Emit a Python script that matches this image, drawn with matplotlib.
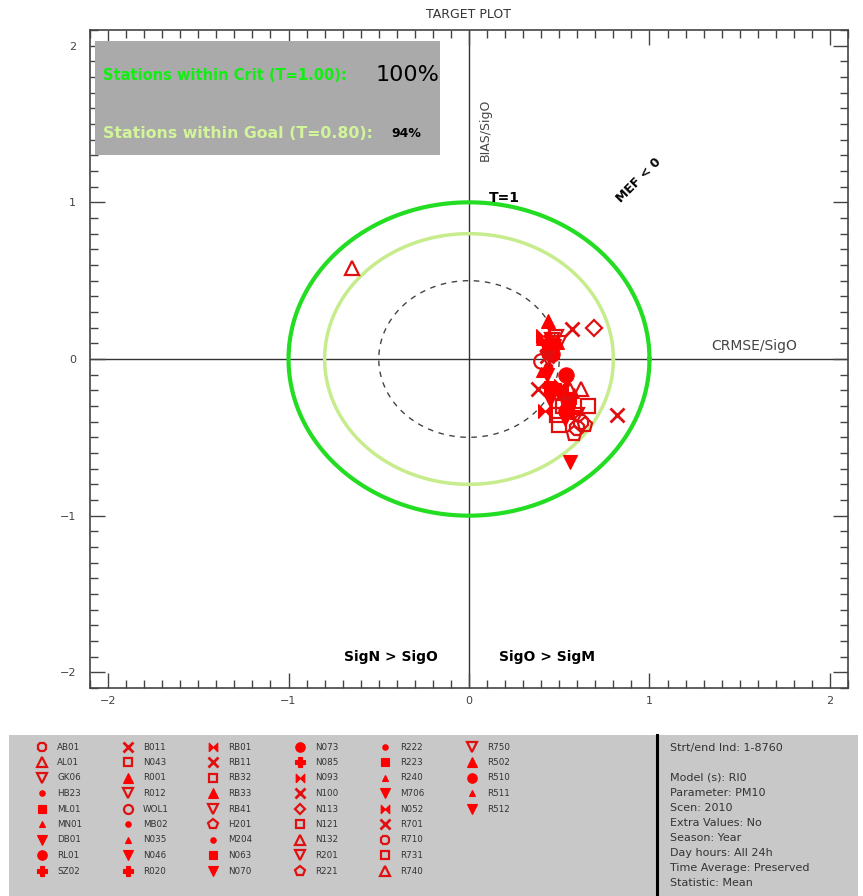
import numpy as np
import matplotlib
matplotlib.use("Agg")
import matplotlib.pyplot as plt
from matplotlib.patches import Rectangle

# ---------------- data ----------------
stations = ["AB01", "AL01", "GK06", "HB23", "ML01", "MN01", "DB01", "RL01", "SZ02",
            "B011", "N043", "R001", "R012", "WOL1", "MB02", "N035", "N046", "R020",
            "RB01", "RB11", "RB32", "RB33", "RB41", "H201", "M204", "N063", "N070",
            "N073", "N085", "N093", "N100", "N113", "N121", "N132", "R201", "R221",
            "R222", "R223", "R240", "M706", "N052", "R701", "R710", "R731", "R740",
            "R750", "R502", "R510", "R511", "R512"]

crmse = [0.62, -0.65, 0.46, 0.42, 0.44, 0.40, 0.56, 0.54, 0.50,
         0.57, 0.66, 0.44, 0.48, 0.40, 0.45, 0.43, 0.47, 0.55,
         0.41, 0.38, 0.49, 0.52, 0.50, 0.64, 0.44, 0.45, 0.43,
         0.46, 0.57, 0.42, 0.82, 0.69, 0.50, 0.62, 0.44, 0.58,
         0.53, 0.56, 0.58, 0.53, 0.51, 0.43, 0.60, 0.52, 0.56,
         0.60, 0.49, 0.54, 0.40, 0.45]

bias = [-0.40, 0.58, 0.12, 0.10, 0.05, -0.08, -0.66, -0.10, -0.20,
        0.19, -0.30, 0.24, 0.14, -0.01, 0.13, -0.15, 0.08, -0.30,
        0.15, -0.19, -0.36, -0.22, 0.10, -0.42, -0.05, -0.18, -0.10,
        0.03, -0.34, -0.33, -0.36, 0.20, -0.42, -0.19, 0.00, -0.48,
        -0.27, -0.25, -0.22, -0.38, -0.17, 0.02, -0.44, -0.30, -0.20,
        -0.36, 0.11, -0.33, 0.12, -0.26]

info_lines = ["Strt/end Ind: 1-8760", "",
              "Model (s): RI0", "Parameter: PM10", "Scen: 2010",
              "Extra Values: No", "Season: Year", "Day hours: All 24h",
              "Time Average: Preserved", "Statistic: Mean"]

crit_pct = "100%"
goal_pct = "94%"

# ---------------- styles ----------------
BOW = [(-1, -1), (-1, 1), (1, -1), (1, 1), (-1, -1)]
STY = {
    "oct_o": dict(marker="8", open=True, s=1.0),
    "tri_o": dict(marker="^", open=True, s=1.0),
    "dtri_o": dict(marker="v", open=True, s=1.0),
    "dot": dict(marker="o", open=False, s=0.6),
    "sq": dict(marker="s", open=False, s=0.8),
    "stri": dict(marker="^", open=False, s=0.75),
    "dtri": dict(marker="v", open=False, s=1.0),
    "circ": dict(marker="o", open=False, s=1.05),
    "plus": dict(marker="P", open=False, s=1.0),
    "x": dict(marker="x", open=False, s=1.0),
    "sq_o": dict(marker="s", open=True, s=0.9),
    "circ_o": dict(marker="o", open=True, s=1.0),
    "bow": dict(marker=BOW, open=False, s=0.95),
    "pent_o": dict(marker="p", open=True, s=1.05),
    "dia_o": dict(marker="D", open=True, s=0.8),
    "tri": dict(marker="^", open=False, s=1.0),
}
marker_kind = ["oct_o", "tri_o", "dtri_o", "dot", "sq", "stri", "dtri", "circ", "plus",
               "x", "sq_o", "tri", "dtri_o", "circ_o", "dot", "stri", "dtri", "plus",
               "bow", "x", "sq_o", "tri", "dtri_o", "pent_o", "dot", "sq", "dtri",
               "circ", "plus", "bow", "x", "dia_o", "sq_o", "tri_o", "dtri_o", "pent_o",
               "dot", "sq", "stri", "dtri", "bow", "x", "oct_o", "sq_o", "tri_o",
               "dtri_o", "tri", "circ", "stri", "dtri"]

RED = "#ff0000"
OPEN_RED = "#e01010"


def draw_marker(ax, x, y, kind, base, zorder=5):
    st = STY[kind]
    ms = base * st["s"]
    if kind == "x":
        ax.plot(x, y, ls="none", marker="x", ms=ms, mew=2.0, color=OPEN_RED, zorder=zorder)
    elif st["open"]:
        ax.plot(x, y, ls="none", marker=st["marker"], ms=ms, mfc="none",
                mec=OPEN_RED, mew=1.6, zorder=zorder)
    else:
        ax.plot(x, y, ls="none", marker=st["marker"], ms=ms, mfc=RED,
                mec=RED, mew=0.8, zorder=zorder)


W, H = 863, 896
fig = plt.figure(figsize=(W / 100, H / 100), dpi=100)
plt.rcParams["font.family"] = ["DejaVu Sans"]

ax = fig.add_axes([90 / W, 1 - 688 / H, (848 - 90) / W, (688 - 30) / H])
ax.set_xlim(-2.1, 2.1)
ax.set_ylim(-2.1, 2.1)

th = np.linspace(0, 2 * np.pi, 400)
ax.plot(np.cos(th), np.sin(th), color="#22dd22", lw=3, zorder=2)
ax.plot(0.8 * np.cos(th), 0.8 * np.sin(th), color="#c6ec8c", lw=2.5, zorder=2)
ax.plot(0.5 * np.cos(th), 0.5 * np.sin(th), color="#444444", lw=1,
        dashes=(4, 4), zorder=2)
ax.axhline(0, color="#333333", lw=1, zorder=1)
ax.axvline(0, color="#333333", lw=1, zorder=1)

for i in range(len(stations)):
    draw_marker(ax, crmse[i], bias[i], marker_kind[i], 10.5)

# summary box
ax.add_patch(Rectangle((-2.07, 1.30), 1.91, 0.73, facecolor="#aaaaaa",
                       edgecolor="none", zorder=3))
ax.text(-2.03, 1.81, "Stations within Crit (T=1.00):", color="#11ee11",
        fontsize=10.5, fontweight="bold", ha="left", va="center", zorder=4)
ax.text(-0.52, 1.81, crit_pct, color="black", fontsize=16, ha="left",
        va="center", zorder=4)
ax.text(-2.03, 1.44, "Stations within Goal (T=0.80):", color="#d2f59a",
        fontsize=11.3, fontweight="bold", ha="left", va="center", zorder=4)
ax.text(-0.43, 1.44, goal_pct, color="black", fontsize=9, fontweight="bold",
        ha="left", va="center", zorder=4)

ax.text(0.09, 1.46, "BIAS/SigO", rotation=90, color="#444444", fontsize=9,
        ha="center", va="center")
ax.text(1.58, 0.08, "CRMSE/SigO", color="#444444", fontsize=10,
        ha="center", va="center")
ax.text(0.11, 1.03, "T=1", fontsize=10, fontweight="bold", ha="left", va="center")
ax.text(0.94, 1.14, "MEF < 0", fontsize=9, fontweight="bold", rotation=45,
        ha="center", va="center")
ax.text(-0.43, -1.9, "SigN > SigO", fontsize=10, fontweight="bold",
        ha="center", va="center")
ax.text(0.43, -1.9, "SigO > SigM", fontsize=10, fontweight="bold",
        ha="center", va="center")

ax.set_xticks([-2, -1, 0, 1, 2])
ax.set_yticks([-2, -1, 0, 1, 2])
ax.set_xticks(np.arange(-2.1, 2.11, 0.1), minor=True)
ax.set_yticks(np.arange(-2.1, 2.11, 0.1), minor=True)
ax.tick_params(which="both", direction="in", top=True, right=True,
               colors="#444444", labelsize=8)
ax.tick_params(which="major", length=11, width=1)
ax.tick_params(which="minor", length=6, width=1)
ax.tick_params(axis="x", pad=6)
ax.tick_params(axis="y", pad=10)
for sp in ax.spines.values():
    sp.set_color("#444444")
    sp.set_linewidth(1.2)

fig.text(468 / W, 1 - 14 / H, "TARGET PLOT", ha="center", va="center",
         fontsize=9, color="#333333")

# ---------------- bottom panel ----------------
bx = fig.add_axes([0, 0, 1, 1], zorder=-1)
bx.set_xlim(0, W)
bx.set_ylim(H, 0)
bx.axis("off")
bx.add_patch(Rectangle((9, 735), 849, 161, facecolor="#c8c8c8", edgecolor="none"))
bx.plot([657, 657], [735, 896], color="black", lw=2.2)

col_x = [42, 128, 213, 300, 385, 472]
row_y0, row_dy = 747, 15.5
for i, name in enumerate(stations):
    c, r = divmod(i, 9)
    x = col_x[c]
    y = row_y0 + r * row_dy
    draw_marker(bx, x, y, marker_kind[i], 6.5)
    bx.text(x + 15, y, name, fontsize=6.3, color="#333333", ha="left", va="center")

iy = 748
for line in info_lines:
    bx.text(670, iy, line, fontsize=8, color="#333333", ha="left", va="center")
    iy += 15

fig.savefig("out.png", dpi=100)
